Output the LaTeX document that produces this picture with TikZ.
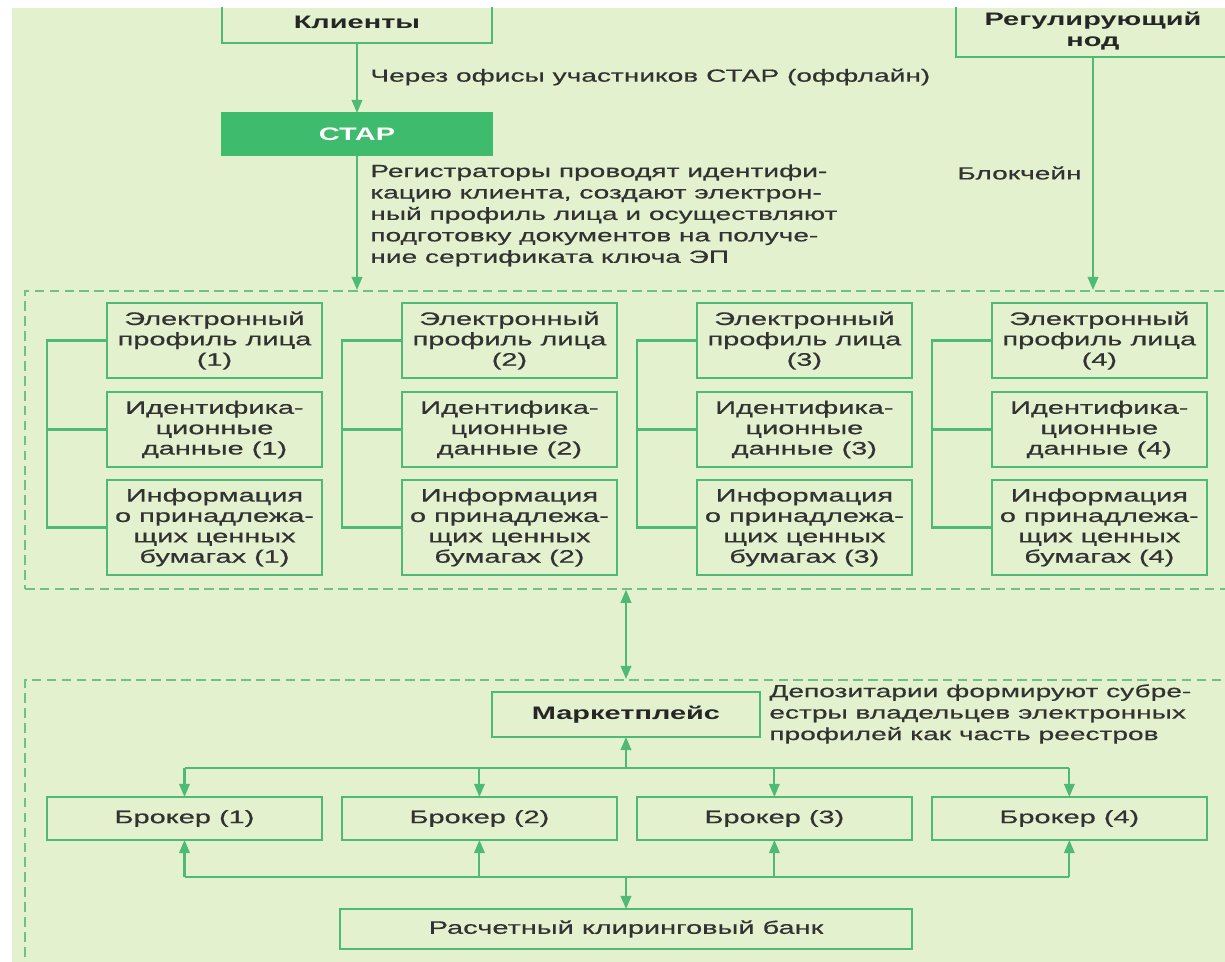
\documentclass[tikz,border=0pt]{standalone}
\usepackage{fontspec}
\setmainfont{Liberation Sans}[FakeStretch=1.6, UprightFeatures={FakeBold=0.5}]
\usetikzlibrary{positioning}
\usetikzlibrary{arrows.meta}

\definecolor{bggreen}{RGB}{227,241,206}
\definecolor{linegreen}{RGB}{78,186,118}
\definecolor{stargreen}{RGB}{62,187,108}
\definecolor{dashgreen}{RGB}{110,194,136}
\definecolor{txtgray}{RGB}{50,50,50}

\tikzset{
  box/.style={draw=linegreen, line width=1.3pt, text=txtgray, align=center,
    inner sep=1pt, outer sep=0pt, font=\fontsize{10.3}{11.6}\selectfont},
  bold/.style={font=\fontsize{10.3}{12.4}\selectfont\bfseries, text=black!85},
  infobox/.style={box, minimum width=4.3cm, minimum height=1.5cm},
  brokerbox/.style={box, minimum width=5.5cm, minimum height=0.86cm},
  group/.style={draw=dashgreen, line width=1pt, dash pattern=on 5.5pt off 3pt},
  conn/.style={draw=linegreen, line width=1.2pt},
  arr/.style={conn, -{Triangle[width=6pt,length=7.5pt]}},
  note/.style={text=txtgray, align=left, inner sep=0pt, font=\fontsize{10}{12.2}\selectfont}
}

\begin{document}
\begin{tikzpicture}[x=0.02cm, y=-0.02cm]
    \useasboundingbox (0,0) rectangle (1225,962);
    \fill[white] (0,0) rectangle (1225,962);
    \fill[bggreen] (12,8) rectangle (1225,962);

    \begin{scope}
    \clip (12,8) rectangle (1225,962);

    % top part
    \node[box, bold, minimum width=5.4cm, minimum height=0.84cm] (klienty) at (357,22) {Клиенты};
    \node[box, bold, minimum width=5.48cm, minimum height=1.04cm] (regnode) at (1093,31) {Регулирующий\\нод};
    \node[box, bold, fill=stargreen, draw=stargreen, text=white, minimum width=5.4cm, minimum height=0.84cm] (star) at (357,134) {СТАР};

    \node[note, anchor=west] (offline) at (370,77) {Через офисы участников СТАР (оффлайн)};
    \node[note, anchor=north west] (registrars) at (370,164) {Регистраторы проводят идентифи-\\кацию клиента, создают электрон-\\ный профиль лица и осуществляют\\подготовку документов на получе-\\ние сертификата ключа ЭП};
    \node[note, anchor=east] (chain) at (1082,173) {Блокчейн};

    % dashed groups
    \node[group, anchor=north west, minimum width=24.4cm, minimum height=5.96cm] (grp1) at (24,290) {};
    \node[group, anchor=north west, minimum width=24.4cm, minimum height=6.5cm] (grp2) at (24,679) {};

    % profiles
    \node[infobox] (prof1) at (214.5,340.5) {Электронный\\профиль лица\\(1)};
    \node[infobox, below=0.28cm of prof1] (ident1) {Идентифика-\\ционные\\данные (1)};
    \node[infobox, minimum height=1.9cm, below=0.26cm of ident1] (info1) {Информация\\о принадлежа-\\щих ценных\\бумагах (1)};

    \node[infobox, right=1.6cm of prof1] (prof2) {Электронный\\профиль лица\\(2)};
    \node[infobox, below=0.28cm of prof2] (ident2) {Идентифика-\\ционные\\данные (2)};
    \node[infobox, minimum height=1.9cm, below=0.26cm of ident2] (info2) {Информация\\о принадлежа-\\щих ценных\\бумагах (2)};

    \node[infobox, right=1.6cm of prof2] (prof3) {Электронный\\профиль лица\\(3)};
    \node[infobox, below=0.28cm of prof3] (ident3) {Идентифика-\\ционные\\данные (3)};
    \node[infobox, minimum height=1.9cm, below=0.26cm of ident3] (info3) {Информация\\о принадлежа-\\щих ценных\\бумагах (3)};

    \node[infobox, right=1.6cm of prof3] (prof4) {Электронный\\профиль лица\\(4)};
    \node[infobox, below=0.28cm of prof4] (ident4) {Идентифика-\\ционные\\данные (4)};
    \node[infobox, minimum height=1.9cm, below=0.26cm of ident4] (info4) {Информация\\о принадлежа-\\щих ценных\\бумагах (4)};

    % lower part
    \node[box, bold, minimum width=5.36cm, minimum height=0.9cm] (market) at (626,714.5) {Маркетплейс};
    \node[note, anchor=west] (depos) at (769,714) {Депозитарии формируют субре-\\естры владельцев электронных\\профилей как часть реестров};

    \node[brokerbox] (brok1) at (184.5,818.5) {Брокер (1)};
    \node[brokerbox, right=0.4cm of brok1] (brok2) {Брокер (2)};
    \node[brokerbox, right=0.4cm of brok2] (brok3) {Брокер (3)};
    \node[brokerbox, right=0.4cm of brok3] (brok4) {Брокер (4)};

    \node[box, minimum width=11.44cm, minimum height=0.8cm] (bank) at (626,929) {Расчетный клиринговый банк};

    \coordinate (upper) at (626,768);
    \coordinate (lower) at (626,877);

    % Now draw the lines:
    \draw[arr] (klienty) -- (star);
    \draw[arr] (star) -- (star.south |- grp1.north);
    \draw[arr] (regnode) -- (regnode.south |- grp1.north);
    \draw[conn, {Triangle[width=6pt,length=7.5pt]}-{Triangle[width=6pt,length=7.5pt]}] (grp1.south -| market) -- (grp2.north -| market);

    \draw[conn] (prof1.west) -- ++(-60,0) |- (info1.west);
    \draw[conn] (ident1.west) -- ++(-60,0);
    \draw[conn] (prof2.west) -- ++(-60,0) |- (info2.west);
    \draw[conn] (ident2.west) -- ++(-60,0);
    \draw[conn] (prof3.west) -- ++(-60,0) |- (info3.west);
    \draw[conn] (ident3.west) -- ++(-60,0);
    \draw[conn] (prof4.west) -- ++(-60,0) |- (info4.west);
    \draw[conn] (ident4.west) -- ++(-60,0);

    \draw[conn] (brok1.north |- upper) -- (brok4.north |- upper);
    \draw[arr] (upper) -- (market);
    \draw[arr] (brok1.north |- upper) -- (brok1);
    \draw[arr] (brok2.north |- upper) -- (brok2);
    \draw[arr] (brok3.north |- upper) -- (brok3);
    \draw[arr] (brok4.north |- upper) -- (brok4);

    \draw[conn] (brok1.south |- lower) -- (brok4.south |- lower);
    \draw[arr] (lower) -- (bank);
    \draw[arr] (brok1.south |- lower) -- (brok1);
    \draw[arr] (brok2.south |- lower) -- (brok2);
    \draw[arr] (brok3.south |- lower) -- (brok3);
    \draw[arr] (brok4.south |- lower) -- (brok4);
    \end{scope}
\end{tikzpicture}
\end{document}
